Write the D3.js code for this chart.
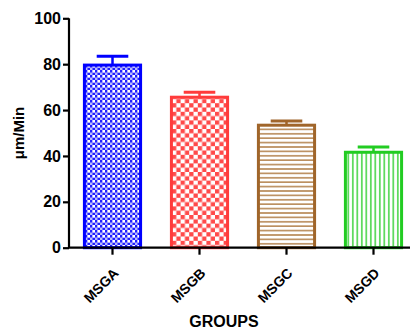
<!DOCTYPE html>
<html><head><meta charset="utf-8">
<script src="https://cdn.jsdelivr.net/npm/d3@7/dist/d3.min.js"></script>
<style>body{margin:0;background:#fff}svg{display:block}text{font-family:Arial,"Liberation Sans",sans-serif;font-weight:bold;fill:#000}</style>
</head><body><svg id="c" width="412" height="331"></svg>
<script>
const categories = ["MSGA","MSGB","MSGC","MSGD"];
const means = [79.6, 65.6, 53.4, 41.6];
const errors = [3.9, 2.2, 1.8, 2.3];
const yTicks = [0,20,40,60,80,100];
const colors = ["#0000ff","#ff3b3b","#a0652a","#22cc22"];
const patternIds = ["pA","pB","pC","pD"];

const svg = d3.select("#c");
const defs = svg.append("defs");
let p = defs.append("pattern").attr("id","pA").attr("patternUnits","userSpaceOnUse").attr("width",5).attr("height",5);
p.append("rect").attr("width",5).attr("height",5).attr("fill","#b8b8ff");
p.append("rect").attr("width",2.5).attr("height",2.5).attr("fill","#2020ff");
p.append("rect").attr("x",2.5).attr("y",2.5).attr("width",2.5).attr("height",2.5).attr("fill","#2020ff");
p.append("rect").attr("x",2.5).attr("y",0).attr("width",2.5).attr("height",2.5).attr("fill","#fff");
p = defs.append("pattern").attr("id","pB").attr("patternUnits","userSpaceOnUse").attr("width",8.6).attr("height",8.6);
p.append("rect").attr("width",8.6).attr("height",8.6).attr("fill","#fff");
p.append("rect").attr("width",4.3).attr("height",4.3).attr("fill","#ff4a4a");
p.append("rect").attr("x",4.3).attr("y",4.3).attr("width",4.3).attr("height",4.3).attr("fill","#ff4a4a");
p = defs.append("pattern").attr("id","pC").attr("patternUnits","userSpaceOnUse").attr("width",10).attr("height",4.4);
p.append("rect").attr("width",10).attr("height",4.4).attr("fill","#fff");
p.append("rect").attr("y",1).attr("width",10).attr("height",1.6).attr("fill","#b88a58");
p = defs.append("pattern").attr("id","pD").attr("patternUnits","userSpaceOnUse").attr("width",4.5).attr("height",10);
p.append("rect").attr("width",4.5).attr("height",10).attr("fill","#fff");
p.append("rect").attr("x",1).attr("width",1.6).attr("height",10).attr("fill","#4cd64c");

const x = d3.scaleBand().domain(categories).range([69,417]).paddingInner(0.32).paddingOuter(0.16);
const y = d3.scaleLinear().domain([0,100]).range([247.7,18.3]);

const g = svg.append("g");
categories.forEach((c,i)=>{
  const cx = x(c)+x.bandwidth()/2;
  const top = y(means[i]+errors[i]);
  g.append("line").attr("x1",cx).attr("x2",cx).attr("y1",y(means[i])).attr("y2",top)
    .attr("stroke",colors[i]).attr("stroke-width",2.5);
  g.append("line").attr("x1",cx-x.bandwidth()/4-1).attr("x2",cx+x.bandwidth()/4+1).attr("y1",top).attr("y2",top)
    .attr("stroke",colors[i]).attr("stroke-width",3);
});
g.selectAll("rect.bar").data(categories).join("rect").attr("class","bar")
  .attr("x",d=>x(d)+1.5).attr("width",x.bandwidth()-3)
  .attr("y",(d,i)=>y(means[i])).attr("height",(d,i)=>y(0)-y(means[i]))
  .attr("fill",(d,i)=>`url(#${patternIds[i]})`)
  .attr("stroke",(d,i)=>colors[i]).attr("stroke-width",3);

const ya = svg.append("g").attr("transform","translate(69,0)")
  .call(d3.axisLeft(y).tickValues(yTicks).tickSize(6).tickPadding(2));
ya.select(".domain").attr("stroke","#000").attr("stroke-width",2.2).attr("d","M0,18.3V247.7");
ya.selectAll(".tick line").attr("stroke","#000").attr("stroke-width",2.2);
ya.selectAll(".tick text").style("font-size","16px").style("font-weight","bold").attr("fill","#000");

const xa = svg.append("g").attr("transform","translate(0,247.7)")
  .call(d3.axisBottom(x).tickSize(7).tickFormat(""));
xa.select(".domain").attr("stroke","#000").attr("stroke-width",2.2).attr("d","M68,0H410");
xa.selectAll(".tick line").attr("stroke","#000").attr("stroke-width",2.2);

const lg = svg.append("g").selectAll("g").data(categories).join("g")
  .attr("transform",d=>"translate(" + (x(d)+x.bandwidth()/2+7) + ",274)");
lg.append("text").attr("text-anchor","end").attr("transform","rotate(-45)")
  .style("font-size","14px").text(d=>d);

svg.append("text").attr("transform","translate(24,133) rotate(-90)").attr("text-anchor","middle")
  .style("font-size","15px").text("μm/Min");
svg.append("text").attr("x",224).attr("y",327).attr("text-anchor","middle")
  .style("font-size","16px").text("GROUPS");
</script></body></html>
